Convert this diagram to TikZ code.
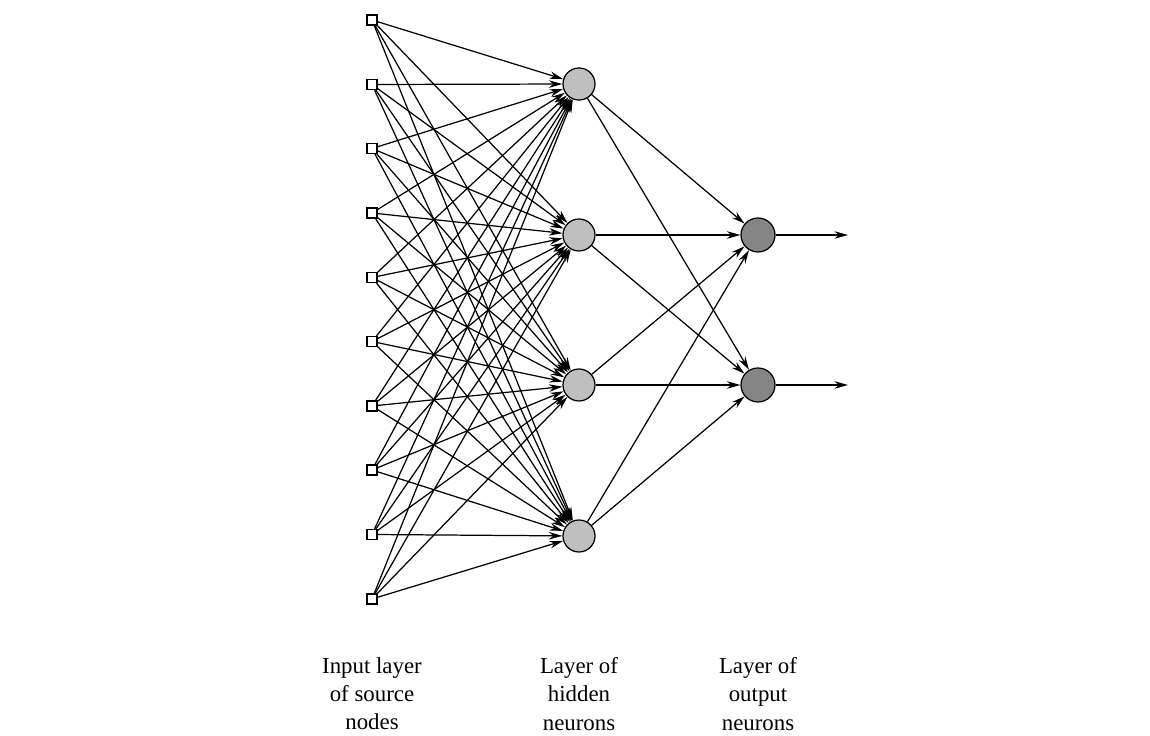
\documentclass[tikz,border=0pt]{standalone}
\usepackage{fontspec}
\setmainfont{Liberation Serif}
\usetikzlibrary{arrows.meta}
\tikzset{
	source/.style={draw, fill=white, rectangle, minimum size=0.2cm, inner sep=0pt, line width=0.7pt},
	hidneuron/.style={draw, circle, fill=black!25, minimum size=0.64cm, inner sep=0pt, line width=0.7pt},
	outneuron/.style={draw, circle, fill=black!48, minimum size=0.68cm, inner sep=0pt, line width=0.7pt},
	syn/.style={line width=0.7pt, -{Stealth[length=0.27cm, width=0.15cm]}},
	caption/.style={align=center, font=\fontsize{13}{16}\selectfont}
}

\begin{document}
\begin{tikzpicture}
			%%%%% START %%%%%
			\useasboundingbox (0, 0) rectangle (23, 14.72);
			
			% input layer
			\node[source] (in1) at (7.44, 14.32) {};
			\node[source] (in2) at (7.44, 13.03) {};
			\node[source] (in3) at (7.44, 11.75) {};
			\node[source] (in4) at (7.44, 10.46) {};
			\node[source] (in5) at (7.44, 9.17) {};
			\node[source] (in6) at (7.44, 7.89) {};
			\node[source] (in7) at (7.44, 6.60) {};
			\node[source] (in8) at (7.44, 5.32) {};
			\node[source] (in9) at (7.44, 4.03) {};
			\node[source] (in10) at (7.44, 2.74) {};
			
			% hidden layer
			\node[hidneuron] (hid1) at (11.58, 13.04) {};
			\node[hidneuron] (hid2) at (11.58, 10.02) {};
			\node[hidneuron] (hid3) at (11.58, 7.02) {};
			\node[hidneuron] (hid4) at (11.58, 4.00) {};
			
			% output layer
			\node[outneuron] (out1) at (15.16, 10.02) {};
			\node[outneuron] (out2) at (15.16, 7.02) {};
			\coordinate (y1) at (16.96, 10.02);
			\coordinate (y2) at (16.96, 7.02);
			
			\foreach \i in {1,...,10}
				\foreach \j in {1,...,4}
					\draw[syn] (in\i) -- (hid\j);
			
			\foreach \j in {1,...,4}
				\foreach \k in {1,2}
					\draw[syn] (hid\j) -- (out\k);
			
			\draw[syn] (out1) -- (y1);
			\draw[syn] (out2) -- (y2);
			
			\node[caption] (capin) at (7.44, 0.84) {Input layer\\of source\\nodes};
			\node[caption] (caphid) at (11.58, 0.84) {Layer of\\hidden\\neurons};
			\node[caption] (capout) at (15.16, 0.84) {Layer of\\output\\neurons};
			
			%%%%% END %%%%%
\end{tikzpicture}
\end{document}
